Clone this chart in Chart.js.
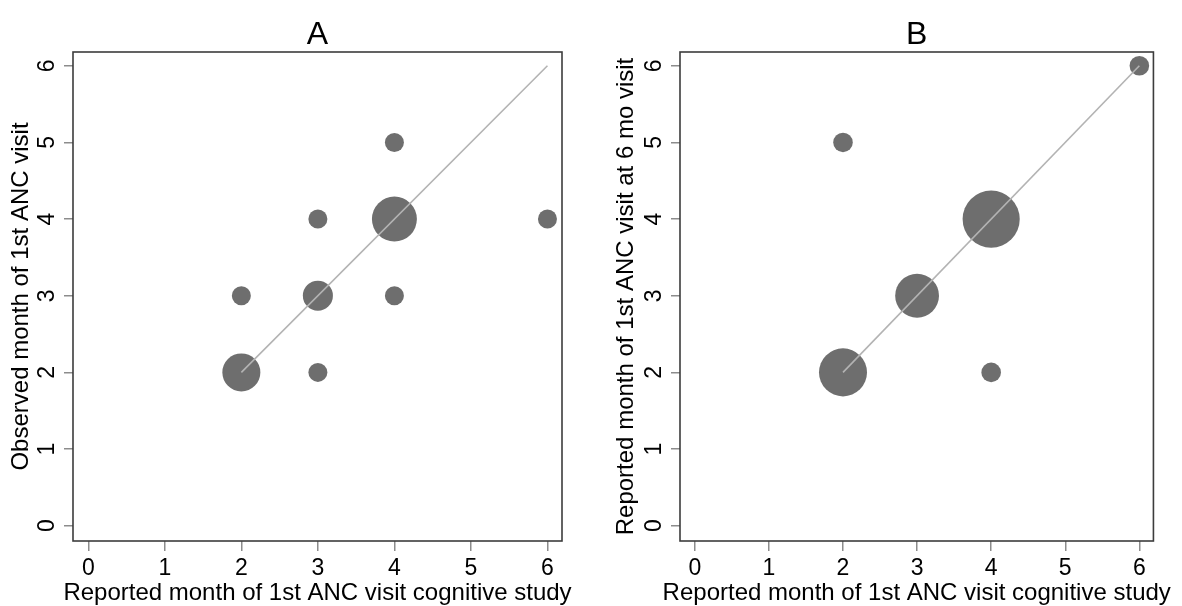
<!DOCTYPE html>
<html><head><meta charset="utf-8">
<script src="https://cdn.jsdelivr.net/npm/chart.js@4"></script>
<style>
html,body{margin:0;padding:0;background:#fff;width:1182px;height:606px;overflow:hidden}
#pa{position:absolute;left:0;top:0;width:591px;height:606px}
#pb{position:absolute;left:591px;top:0;width:591px;height:606px}
</style></head><body>
<div id="pa"><canvas id="ca"></canvas></div>
<div id="pb"><canvas id="cb"></canvas></div>
<script>
// ---- data ----
const tickValues = [0, 1, 2, 3, 4, 5, 6];
const xAxisTitle = 'Reported month of 1st ANC visit cognitive study';

const aTitle = 'A';
const aYTitle = 'Observed month of 1st ANC visit';
const aX = [2, 2, 3, 3, 3, 4, 4, 4, 6];
const aY = [2, 3, 2, 3, 4, 3, 4, 5, 4];
const aCount = [4, 1, 1, 2.5, 1, 1, 5.6, 1, 1];

const bTitle = 'B';
const bYTitle = 'Reported month of 1st ANC visit at 6 mo visit';
const bX = [2, 2, 3, 4, 4, 6];
const bY = [2, 5, 3, 2, 4, 6];
const bCount = [6, 1, 5, 1, 8.5, 1];

const refLineX = [2, 6];
const refLineY = [2, 6];

// ---- styling ----
const FONT = '"Liberation Sans", Arial, sans-serif';
const BUBBLE = '#6e6e6e';
const REFLINE = '#b3b3b3';
const TICK = '#8c8c8c';
const FRAME = '#3c3c3c';

const framePlugin = {
  id: 'frameAndTitle',
  afterDraw(chart) {
    const {ctx, chartArea: ca} = chart;
    const t = chart.options.plugins.frameAndTitle;
    const cx = (ca.left + ca.right) / 2;
    ctx.save();
    ctx.strokeStyle = FRAME;
    ctx.lineWidth = 1.6;
    ctx.strokeRect(ca.left, ca.top, ca.right - ca.left, ca.bottom - ca.top);
    ctx.fillStyle = '#000';
    ctx.textAlign = 'center';
    ctx.textBaseline = 'alphabetic';
    ctx.font = '32px ' + FONT;
    ctx.fillText(t.text, cx, t.baseline);
    ctx.font = '24px ' + FONT;
    ctx.fillText(t.xTitle, cx, t.xTitleBaseline);
    ctx.restore();
  }
};

function makeChart(id, cfg) {
  const pts = cfg.xs.map((x, i) => ({x: x, y: cfg.ys[i]}));
  const line = refLineX.map((x, i) => ({x: x, y: refLineY[i]}));
  return new Chart(document.getElementById(id), {
    type: 'bubble',
    data: {
      datasets: [
        {
          type: 'line', data: line, borderColor: REFLINE, borderWidth: 1.6,
          pointRadius: 0, fill: false, order: 0
        },
        {
          type: 'bubble', data: pts, order: 1,
          backgroundColor: BUBBLE, borderColor: BUBBLE, borderWidth: 0,
          radius: ctx => cfg.unit * Math.sqrt(cfg.counts[ctx.dataIndex])
        }
      ]
    },
    options: {
      responsive: true, maintainAspectRatio: false, animation: false,
      devicePixelRatio: 1,
      layout: {padding: {left: 0, top: 52, right: cfg.padRight, bottom: 0}},
      plugins: {
        legend: {display: false}, tooltip: {enabled: false},
        frameAndTitle: {text: cfg.title, baseline: 44, xTitle: xAxisTitle, xTitleBaseline: 600}
      },
      scales: {
        x: {
          type: 'linear', position: 'bottom', min: -0.2, max: 6.19,
          afterBuildTicks: s => { s.ticks = tickValues.map(v => ({value: v})); },
          afterFit: s => { s.height = 65; },
          border: {display: false},
          grid: {drawOnChartArea: false, drawTicks: true, tickLength: 10, color: TICK, lineWidth: 1.5},
          ticks: {color: '#000', font: {family: FONT, size: 23}, padding: 4, maxRotation: 0, minRotation: 0},
          title: {display: false}
        },
        y: {
          type: 'linear', position: 'left', min: -0.2, max: 6.18,
          afterBuildTicks: s => { s.ticks = tickValues.map(v => ({value: v})); },
          afterFit: s => { s.width = cfg.yWidth; },
          border: {display: false},
          grid: {drawOnChartArea: false, drawTicks: true, tickLength: 9, color: TICK, lineWidth: 1.5},
          ticks: {color: '#000', font: {family: FONT, size: 23}, padding: 10, minRotation: 90, maxRotation: 90, crossAlign: 'center'},
          title: {display: true, text: cfg.yTitle, color: '#000', font: {family: FONT, size: 24}, padding: {top: cfg.yTitlePad, bottom: 0}}
        }
      }
    },
    plugins: [framePlugin]
  });
}

makeChart('ca', {xs: aX, ys: aY, counts: aCount, unit: 9.5, title: aTitle, yTitle: aYTitle,
  padRight: 29, yWidth: 73, yTitlePad: 7});
makeChart('cb', {xs: bX, ys: bY, counts: bCount, unit: 9.8, title: bTitle, yTitle: bYTitle,
  padRight: 12, yWidth: 89, yTitlePad: 21});
</script>
</body></html>
